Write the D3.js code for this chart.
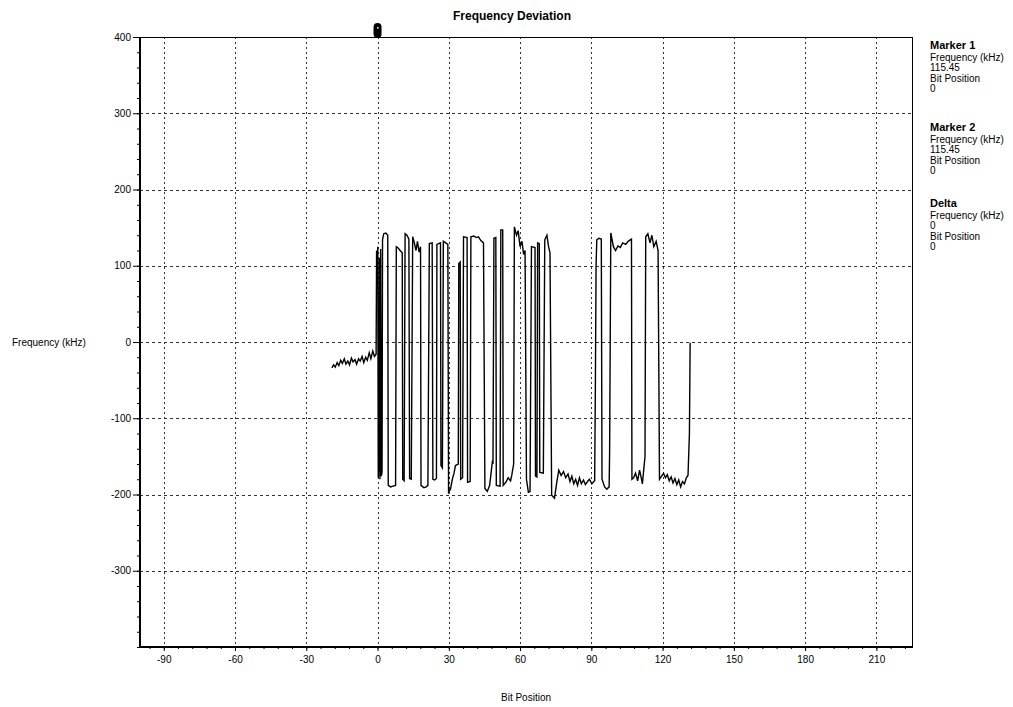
<!DOCTYPE html>
<html>
<head>
<meta charset="utf-8">
<script src="https://cdn.jsdelivr.net/npm/d3@7"></script>
<style>
  body { margin: 0; background: #fff; }
  text { font-family: "Liberation Sans", Arial, sans-serif; fill: #000; }
</style>
</head>
<body>
<script>
// tick labels
var xTicks = [-90, -60, -30, 0, 30, 60, 90, 120, 150, 180, 210];
var yTicks = [-300, -200, -100, 0, 100, 200, 300, 400];

// marker readout
var markerBit = 0;
var panelTitles = ["Marker 1", "Marker 2", "Delta"];
var panelFreq = ["115.45", "115.45", "0"];
var panelBitPos = ["0", "0", "0"];

// noise before the burst [bit, kHz]
var preamble = [
    [-19.2, -34], [-18.5, -30], [-17.8, -33], [-17, -27], [-16.3, -31], [-15.5, -24],
    [-14.8, -28], [-14, -22], [-13.3, -29], [-12.5, -25], [-11.8, -30], [-11, -21],
    [-10.3, -26], [-9.5, -23], [-8.8, -29], [-8, -22], [-7.3, -25], [-6.5, -19],
    [-5.8, -27], [-5, -20], [-4.3, -24], [-3.5, -14], [-2.8, -22], [-2, -12],
    [-1.3, -19], [-0.6, -16]
];

// FSK burst [bit, kHz]
var burst = [
    [-0.4, 120], [-0.1, 105], [0.1, 125], [0.3, -178], [0.6, -150], [0.8, 110], [1.0, -180],
    [1.3, 122], [1.6, -176], [1.9, -170], [2.1, 134], [2.6, 142], [3.5, 143], [4.3, 140],
    [4.5, -188], [5.5, -190], [6.5, -189], [7.6, -188], [7.9, 125], [8.5, 124], [9.5, 120],
    [10.4, 117], [10.6, -180], [11.2, -182], [11.6, 142], [12.4, 140], [13.2, 135],
    [13.5, -179], [14.2, -180], [14.8, 138], [15.5, 130], [16.2, 120], [16.8, 132],
    [17.5, 118], [18.1, 125], [18.3, -188], [19.5, -191], [20.5, -190], [21.2, -188],
    [21.8, 129], [23.0, 130], [23.3, -180], [24.0, -181], [24.8, -179], [25.0, 128],
    [26.5, 130], [26.7, -162], [27.3, -165], [27.7, 132], [28.7, 130], [29.6, 128],
    [29.9, -197], [30.7, -193], [31.5, -180], [32.2, -172], [32.8, -162], [34.0, -160],
    [34.2, 103], [34.8, 105], [35.0, -180], [35.8, -178], [36.2, 138], [37.7, 137],
    [37.9, -184], [39.0, -183], [39.3, 138], [40.5, 139], [41.6, 137], [42.5, 138],
    [43.5, 133], [44.6, 130], [45.2, -192], [46.2, -196], [47.2, -188], [48.3, -158],
    [48.6, -160], [49.0, 136], [49.8, 137], [50.0, -188], [51.6, -189], [51.9, 147],
    [52.7, 147], [52.9, -188], [54.0, -184], [55.0, -178], [56.0, -182], [56.5, -175],
    [57.3, -160], [57.6, 151], [58.5, 140], [59.2, 146], [60.0, 125], [60.8, 132],
    [61.5, 115], [62.1, 120], [62.7, -180], [63.5, -197], [64.2, -196], [64.8, 125],
    [66.3, 124], [66.5, -176], [67.1, -177], [67.4, 130], [68.1, 129], [68.3, -171],
    [69.8, -172], [70.4, 134], [71.3, 140], [72.0, 125], [72.6, 117], [73.3, -201],
    [74.5, -205], [75.4, -185], [76.3, -168], [77.3, -175], [78.3, -170], [79.2, -178],
    [80.2, -173], [81.0, -183], [81.8, -176], [82.6, -186], [83.4, -180], [84.2, -188],
    [85.0, -178], [85.8, -186], [86.7, -181], [87.5, -187], [88.4, -183], [89.2, -180],
    [90.2, -186], [91.4, -182], [91.7, -60], [92.0, 100], [92.3, 134], [93.2, 136],
    [94.2, 135], [94.5, -180], [95.6, -190], [96.5, -193], [97.5, -190], [97.7, -145],
    [98.2, 143], [99.3, 125], [100.2, 120], [101.2, 126], [102.2, 124], [103.2, 130],
    [104.5, 128], [105.5, 132], [106.9, 135], [107.1, -180], [107.8, -178], [108.6, -172],
    [109.5, -182], [110.3, -168], [111.0, -178], [111.5, -186], [112.6, -150], [112.9, 138],
    [113.8, 142], [114.7, 130], [115.5, 140], [116.3, 125], [117.3, 132], [118.1, 120],
    [118.7, -180], [119.6, -176], [120.4, -172], [121.2, -178], [122.0, -174], [122.8, -182],
    [123.6, -177], [124.4, -185], [125.2, -179], [126.0, -187], [126.8, -181], [127.6, -190],
    [128.4, -183], [129.2, -186], [130.0, -178], [130.7, -175], [131.3, -120], [131.6, -1]
];

var width = 1013, height = 707;
var plot = { left: 140, right: 912, top: 37, bottom: 647 };

var x = d3.scaleLinear().domain([-100, 225]).range([plot.left, plot.right]);
var y = d3.scaleLinear().domain([-400, 400]).range([plot.bottom, plot.top]);

var svg = d3.select("body").append("svg")
    .attr("width", width)
    .attr("height", height);

// grid
svg.append("g").selectAll("line").data(yTicks.filter(function (d) { return d < 400; }))
    .enter().append("line")
    .attr("x1", plot.left).attr("x2", plot.right)
    .attr("y1", function (d) { return Math.round(y(d)) + 0.5; })
    .attr("y2", function (d) { return Math.round(y(d)) + 0.5; })
    .attr("stroke", "#333").attr("stroke-dasharray", "3,3");

svg.append("g").selectAll("line").data(xTicks)
    .enter().append("line")
    .attr("y1", plot.top).attr("y2", plot.bottom)
    .attr("x1", function (d) { return Math.round(x(d)) + 0.5; })
    .attr("x2", function (d) { return Math.round(x(d)) + 0.5; })
    .attr("stroke", "#333").attr("stroke-dasharray", "2,3");

// border
svg.append("rect")
    .attr("x", plot.left + 0.5).attr("y", plot.top + 0.5)
    .attr("width", plot.right - plot.left).attr("height", plot.bottom - plot.top)
    .attr("fill", "none").attr("stroke", "#000");

// trace
var line = d3.line()
    .x(function (d) { return x(d[0]); })
    .y(function (d) { return y(d[1]); });

svg.append("path")
    .datum(preamble.concat(burst))
    .attr("d", line)
    .attr("fill", "none")
    .attr("stroke", "#000")
    .attr("stroke-width", 1.4);

// axes
var fmt = function (d) { return String(d); };

var xAxis = svg.append("g")
    .attr("transform", "translate(0," + plot.bottom + ")")
    .call(d3.axisBottom(x).tickValues(xTicks).tickSize(4).tickPadding(5).tickFormat(fmt));
var xMinor = svg.append("g")
    .attr("transform", "translate(0," + plot.bottom + ")")
    .call(d3.axisBottom(x).tickValues(d3.range(-96, 225, 6)).tickSize(2).tickFormat(""));

var yAxis = svg.append("g")
    .attr("transform", "translate(" + plot.left + ",0)")
    .call(d3.axisLeft(y).tickValues(yTicks).tickSize(7).tickPadding(2).tickFormat(fmt));
var yMinor = svg.append("g")
    .attr("transform", "translate(" + plot.left + ",0)")
    .call(d3.axisLeft(y).tickValues(d3.range(-400, 401, 20)).tickSize(3).tickFormat(""));

[xAxis, xMinor, yAxis, yMinor].forEach(function (g) {
    g.select(".domain").remove();
    g.selectAll("text").style("font-size", "10px").attr("font-family", null);
});

// thick axis lines
svg.append("line")
    .attr("x1", plot.left - 1).attr("x2", plot.right + 1)
    .attr("y1", plot.bottom).attr("y2", plot.bottom)
    .attr("stroke", "#000").attr("stroke-width", 2);
svg.append("line")
    .attr("x1", plot.left).attr("x2", plot.left)
    .attr("y1", plot.top).attr("y2", plot.bottom + 1)
    .attr("stroke", "#000").attr("stroke-width", 2);

// marker flag on top edge
svg.append("rect")
    .attr("x", x(markerBit) - 4).attr("y", 23)
    .attr("width", 8).attr("height", 15)
    .attr("rx", 4).attr("fill", "#000");
svg.append("rect")
    .attr("x", x(markerBit) - 0.5).attr("y", 27)
    .attr("width", 1.5).attr("height", 1.5)
    .attr("fill", "#fff");

// titles
svg.append("text")
    .attr("x", 512).attr("y", 20)
    .attr("text-anchor", "middle")
    .style("font-size", "12px").style("font-weight", "bold")
    .text("Frequency Deviation");

svg.append("text")
    .attr("x", 12).attr("y", 346)
    .style("font-size", "10px")
    .text("Frequency (kHz)");

svg.append("text")
    .attr("x", 526).attr("y", 701)
    .attr("text-anchor", "middle")
    .style("font-size", "10px")
    .text("Bit Position");

// marker panel
var blockTop = [49, 131, 207];
panelTitles.forEach(function (t, i) {
    var g = svg.append("g").attr("transform", "translate(930," + blockTop[i] + ")");
    g.append("text").attr("y", 0)
        .style("font-size", "11px").style("font-weight", "bold").text(t);
    var rows = ["Frequency (kHz)", panelFreq[i], "Bit Position", panelBitPos[i]];
    rows.forEach(function (r, j) {
        g.append("text").attr("y", 11.5 + j * 10.5)
            .style("font-size", "10px").text(r);
    });
});
</script>
</body>
</html>
